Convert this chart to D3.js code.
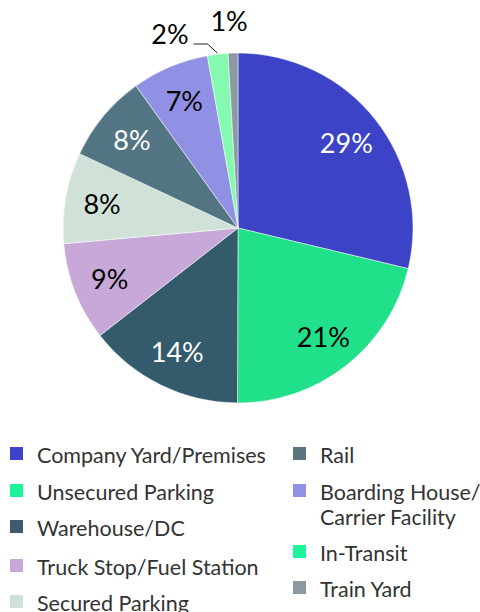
<!DOCTYPE html>
<html>
<head>
<meta charset="utf-8">
<script src="https://cdn.jsdelivr.net/npm/d3@7"></script>
<style>
    body { margin: 0; background: #fff; }
    svg { display: block; font-family: Lato, 'Open Sans', sans-serif; }
</style>
</head>
<body>
<div id="chart"></div>
<script>
// Chart data
var categories = ['Company Yard/Premises', 'Unsecured Parking', 'Warehouse/DC', 'Truck Stop/Fuel Station',
    'Secured Parking', 'Rail', 'Boarding House/\nCarrier Facility', 'In-Transit', 'Train Yard'];
var shares = [28.7, 21.3, 14.4, 9.1, 8.4, 8.1, 7.1, 1.9, 0.9];
var sliceColors = ['#3d43c6', '#20e08a', '#335b6c', '#c7a8d8', '#d0e2d8', '#537482', '#9090e4', '#86f9b0', '#8a9aa0'];
var legendColors = ['#3d43c6', '#1ef59a', '#3f5a6b', '#c7a8d8', '#d0e2d8', '#5c7380', '#9090e4', '#1ef59a', '#8a9aa0'];
var labelColors = ['#fff', '#000', '#fff', '#000', '#000', '#fff', '#000', '#000', '#000'];

var width = 480, height = 612,
    cx = 238, cy = 228, radius = 175;

var svg = d3.select('#chart')
    .append('svg')
    .attr('width', width)
    .attr('height', height);

var data = categories.map(function(c, i) { return { name: c, value: shares[i], i: i }; });

var pie = d3.pie()
    .sort(null)
    .value(function(d) { return d.value; });

var arc = d3.arc().innerRadius(0).outerRadius(radius);
var labelArc = d3.arc().innerRadius(138).outerRadius(138);

var arcs = pie(data);

var g = svg.append('g')
    .attr('transform', 'translate(' + cx + ',' + cy + ')');

// Slices
g.selectAll('path')
    .data(arcs)
    .enter()
    .append('path')
    .attr('d', arc)
    .style('fill', function(d) { return sliceColors[d.data.i]; })
    .style('stroke', '#fff')
    .style('stroke-width', '0.5px');

// Inside labels for the big slices, outside for the small ones
arcs.forEach(function(d) {
    var pct = Math.round(d.data.value) + '%';
    if (d.data.value >= 5) {
        var p = labelArc.centroid(d);
        g.append('text')
            .attr('x', p[0])
            .attr('y', p[1])
            .attr('dy', '0.38em')
            .attr('text-anchor', 'middle')
            .style('font-size', '27px')
            .style('fill', labelColors[d.data.i])
            .text(pct);
    }
});

// Small slices: 2% with a leader line, 1% right above
var smallIn = arcs[7], smallTrain = arcs[8];
var midIn = (smallIn.startAngle + smallIn.endAngle) / 2;
var edge = [Math.sin(midIn) * (radius + 1), -Math.cos(midIn) * (radius + 1)];
var elbow = [edge[0] - 10, -radius - 9];
g.append('polyline')
    .attr('points', [edge, elbow, [elbow[0] - 14, elbow[1]]].map(function(p) { return p.join(','); }).join(' '))
    .style('fill', 'none')
    .style('stroke', '#222')
    .style('stroke-width', '1px');
g.append('text')
    .attr('x', elbow[0] - 19)
    .attr('y', elbow[1] - 9)
    .attr('dy', '0.35em')
    .attr('text-anchor', 'end')
    .style('font-size', '27px')
    .style('fill', '#000')
    .text(Math.round(smallIn.data.value) + '%');

var midTrain = (smallTrain.startAngle + smallTrain.endAngle) / 2;
g.append('text')
    .attr('x', Math.sin(midTrain) * radius - 4)
    .attr('y', -radius - 31)
    .attr('dy', '0.35em')
    .attr('text-anchor', 'middle')
    .style('font-size', '27px')
    .style('fill', '#000')
    .text(Math.round(smallTrain.data.value) + '%');

// Legend, two columns
var legendRows = [
    { x: 10, ys: [455, 492, 528, 567, 603] },
    { x: 293, ys: [455, 492, 553, 589] }
];
data.forEach(function(d, i) {
    var col = i < 5 ? 0 : 1;
    var row = i < 5 ? i : i - 5;
    var x = legendRows[col].x, y = legendRows[col].ys[row];
    var item = svg.append('g').attr('transform', 'translate(' + x + ',' + y + ')');
    item.append('rect')
        .attr('x', 0)
        .attr('y', -8)
        .attr('width', 13)
        .attr('height', 13)
        .style('fill', legendColors[i]);
    var t = item.append('text')
        .attr('x', 27)
        .attr('y', 0)
        .style('font-size', '21.5px')
        .style('fill', '#333');
    d.name.split('\n').forEach(function(line, j) {
        t.append('tspan')
            .attr('x', 27)
            .attr('dy', j === 0 ? '0.35em' : '1.17em')
            .text(line);
    });
});
</script>
</body>
</html>
